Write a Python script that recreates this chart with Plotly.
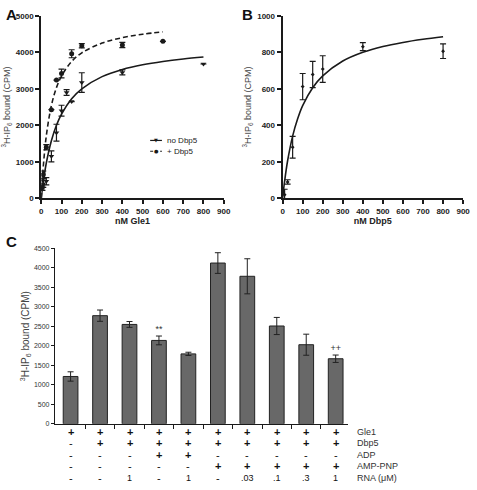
import plotly.graph_objects as go

W, H = 477, 490

# ---------------- Panel A data ----------------
a_nodbp5_x = [5, 10, 25, 50, 75, 100, 125, 150, 200, 400, 800]
a_nodbp5_y = [280, 400, 470, 1150, 1800, 2400, 2900, 2650, 3170, 3450, 3680]
a_nodbp5_err = [60, 100, 100, 150, 230, 150, 80, 0, 270, 70, 0]

a_dbp5_x = [5, 10, 25, 50, 75, 100, 150, 200, 400, 600]
a_dbp5_y = [300, 650, 1400, 2430, 3240, 3420, 3960, 4180, 4200, 4300]
a_dbp5_err = [80, 100, 70, 0, 0, 120, 110, 60, 70, 0]

# fitted curves
a_fit_nodbp5_x = [0, 5, 10, 25, 50, 75, 100, 150, 200, 300, 400, 500, 600, 700, 800]
a_fit_nodbp5_y = [0, 236, 448, 968, 1579, 2000, 2308, 2728, 3000, 3333, 3530, 3659, 3750, 3818, 3870]
a_fit_dbp5_x = [0, 5, 10, 25, 50, 75, 100, 150, 200, 300, 400, 500, 600]
a_fit_dbp5_y = [0, 475, 867, 1714, 2541, 3032, 3350, 3749, 3985, 4253, 4401, 4495, 4560]

# ---------------- Panel B data ----------------
b_x = [10, 25, 50, 100, 150, 200, 400, 800]
b_y = [20, 90, 280, 612, 678, 708, 831, 806]
b_err = [30, 12, 60, 72, 72, 73, 22, 40]
b_fit_x = [0, 5, 10, 25, 50, 75, 100, 150, 200, 300, 400, 500, 600, 700, 800]
b_fit_y = [0, 49, 94, 206, 341, 436, 508, 606, 671, 752, 800, 832, 854, 871, 885]

# ---------------- Panel C data ----------------
c_pos = [1, 2, 3, 4, 5, 6, 7, 8, 9, 10]
c_vals = [1215, 2775, 2550, 2140, 1795, 4125, 3785, 2510, 2030, 1670]
c_err = [120, 145, 75, 113, 42, 265, 450, 220, 270, 95]
c_marks = ["", "", "", "**", "", "**", "", "", "", "++"]
row_labels = ["Gle1", "Dbp5", "ADP", "AMP-PNP", "RNA (\u03bcM)"]
row_gle1 = ["+", "+", "+", "+", "+", "+", "+", "+", "+", "+"]
row_dbp5 = ["-", "+", "+", "+", "+", "+", "+", "+", "+", "+"]
row_adp = ["-", "-", "-", "+", "+", "-", "-", "-", "-", "-"]
row_amppnp = ["-", "-", "-", "-", "-", "+", "+", "+", "+", "+"]
row_rna = ["-", "-", "1", "-", "1", "-", ".03", ".1", ".3", "1"]

fig = go.Figure()

def px_x(p):
    return p / W

def px_y(p):
    return 1 - p / H

FONT = "Liberation Sans"
NARROW = "Liberation Sans Narrow, Liberation Sans"
BLK = "#1a1a1a"

# ---- Panel A traces ----
fig.add_trace(go.Scatter(x=a_fit_nodbp5_x, y=a_fit_nodbp5_y, mode="lines", line=dict(color=BLK, width=1.6, shape="spline"),
                         xaxis="x", yaxis="y", showlegend=False))
fig.add_trace(go.Scatter(x=a_fit_dbp5_x, y=a_fit_dbp5_y, mode="lines", line=dict(color=BLK, width=1.6, dash="5px,3px", shape="spline"),
                         xaxis="x", yaxis="y", showlegend=False))
fig.add_trace(go.Scatter(x=a_nodbp5_x, y=a_nodbp5_y, mode="markers",
                         marker=dict(symbol="triangle-down", size=5, color=BLK),
                         error_y=dict(type="data", array=a_nodbp5_err, color=BLK, thickness=1.2, width=3),
                         xaxis="x", yaxis="y", showlegend=False))
fig.add_trace(go.Scatter(x=a_dbp5_x, y=a_dbp5_y, mode="markers",
                         marker=dict(symbol="circle", size=5, color=BLK),
                         error_y=dict(type="data", array=a_dbp5_err, color=BLK, thickness=1.2, width=3),
                         xaxis="x", yaxis="y", showlegend=False))

# ---- Panel B traces ----
fig.add_trace(go.Scatter(x=b_fit_x, y=b_fit_y, mode="lines", line=dict(color=BLK, width=1.6, shape="spline"),
                         xaxis="x2", yaxis="y2", showlegend=False))
fig.add_trace(go.Scatter(x=b_x, y=b_y, mode="markers",
                         marker=dict(symbol="diamond", size=3, color=BLK),
                         error_y=dict(type="data", array=b_err, color=BLK, thickness=1.2, width=3),
                         xaxis="x2", yaxis="y2", showlegend=False))

# ---- Panel C traces ----
fig.add_trace(go.Bar(x=c_pos, y=c_vals, width=0.5,
                     marker=dict(color="#686868", line=dict(color="#222222", width=1)),
                     error_y=dict(type="data", array=c_err, color="#222222", thickness=1, width=3),
                     xaxis="x3", yaxis="y3", showlegend=False))
mk_x = [p for p, m in zip(c_pos, c_marks) if m]
mk_y = [v + e + 170 for v, e, m in zip(c_vals, c_err, c_marks) if m]
mk_t = [m for m in c_marks if m]
fig.add_trace(go.Scatter(x=mk_x, y=mk_y, mode="text", text=mk_t, cliponaxis=False,
                         textfont=dict(size=9, color="#333333", family=FONT),
                         xaxis="x3", yaxis="y3", showlegend=False))

tick_font = dict(family=NARROW, size=8, color="#222222", weight="bold")
ytitle = "<sup>3</sup>H-IP<sub>6</sub> bound (CPM)"

fig.update_layout(
    width=W, height=H, margin=dict(l=0, r=0, t=0, b=0),
    paper_bgcolor="white", plot_bgcolor="white", showlegend=False,
    font=dict(family=FONT, color="#222222"),
    xaxis=dict(domain=[px_x(40), px_x(226)], range=[0, 900], dtick=100, showline=True, linewidth=2, linecolor=BLK,
               ticks="outside", ticklen=4, tickwidth=1.5, tickcolor=BLK, showgrid=False, zeroline=False,
               tickfont=tick_font, anchor="y",
               title=dict(text="<b>nM Gle1</b>", font=dict(family=FONT, size=9), standoff=0)),
    yaxis=dict(domain=[px_y(198), px_y(12)], range=[0, 5000], dtick=1000, showline=True, linewidth=2, linecolor=BLK,
               ticks="outside", ticklen=4, tickwidth=1.5, tickcolor=BLK, showgrid=False, zeroline=False,
               tickfont=tick_font, anchor="x",
               title=dict(text=ytitle, font=dict(family=FONT, size=9, color="#444"), standoff=4)),
    xaxis2=dict(domain=[px_x(286), px_x(470)], range=[0, 900], dtick=100, showline=True, linewidth=2, linecolor=BLK,
                ticks="outside", ticklen=4, tickwidth=1.5, tickcolor=BLK, showgrid=False, zeroline=False,
                tickfont=tick_font, anchor="y2",
                title=dict(text="<b>nM Dbp5</b>", font=dict(family=FONT, size=9), standoff=0)),
    yaxis2=dict(domain=[px_y(198), px_y(12)], range=[0, 1000], dtick=200, showline=True, linewidth=2, linecolor=BLK,
                ticks="outside", ticklen=4, tickwidth=1.5, tickcolor=BLK, showgrid=False, zeroline=False,
                tickfont=tick_font, anchor="x2",
                title=dict(text=ytitle, font=dict(family=FONT, size=9, color="#444"), standoff=4)),
    xaxis3=dict(domain=[px_x(54), px_x(353)], range=[0.47, 10.43], showline=True, linewidth=1.2, linecolor=BLK,
                ticks="outside", ticklen=4, tickcolor=BLK, tickvals=[1.5, 2.5, 3.5, 4.5, 5.5, 6.5, 7.5, 8.5, 9.5],
                showticklabels=False, showgrid=False, zeroline=False, anchor="y3"),
    yaxis3=dict(domain=[px_y(427.7), px_y(249)], range=[0, 4500], dtick=500, showline=True, linewidth=1.2, linecolor=BLK,
                ticks="outside", ticklen=3, tickcolor=BLK, showgrid=False, zeroline=False,
                tickfont=dict(family=FONT, size=7, color="#333"), anchor="x3",
                title=dict(text=ytitle, font=dict(family=FONT, size=10, color="#444"), standoff=2)),
)

# Legend for panel A drawn in paper space
leg = [("no Dbp5", "solid", "\u25bc", 139), ("+ Dbp5", "3px,2px", "\u25cf", 150)]
for name, dash, sym, ly in leg:
    fig.add_shape(type="line", xref="paper", yref="paper", x0=px_x(151), x1=px_x(163), y0=px_y(ly), y1=px_y(ly),
                  line=dict(color=BLK, width=1.2, dash=dash))
    fig.add_annotation(text=sym, x=px_x(157), y=px_y(ly), xref="paper", yref="paper", showarrow=False,
                       xanchor="center", yanchor="middle", font=dict(family="DejaVu Sans", size=5, color=BLK))
    fig.add_annotation(text=name, x=px_x(166), y=px_y(ly), xref="paper", yref="paper", showarrow=False,
                       xanchor="left", yanchor="middle", font=dict(family=FONT, size=8, color="#222"))

# Panel letters
for letter, (lx, ly) in {"A": (2, 0), "B": (243, 0), "C": (2, 231)}.items():
    fig.add_annotation(text=f"<b>{letter}</b>", x=px_x(lx), y=px_y(ly), xref="paper", yref="paper",
                       xanchor="left", yanchor="top", showarrow=False,
                       font=dict(family=FONT, size=15, color="#111"))

# Condition table below panel C
rows = [row_gle1, row_dbp5, row_adp, row_amppnp, row_rna]
row_y = [436, 447.5, 459, 471, 483]
for vals, ry, lab in zip(rows, row_y, row_labels):
    for xp, v in zip(c_pos, vals):
        txt = "<b>+</b>" if v == "+" else v
        fig.add_annotation(text=txt, x=xp, y=px_y(ry), xref="x3", yref="paper", showarrow=False,
                           xanchor="center", yanchor="middle",
                           font=dict(family=FONT, size=11 if v in ("+", "-") else 9, color="#111"))
    fig.add_annotation(text=lab, x=px_x(360), y=px_y(ry), xref="paper", yref="paper", showarrow=False,
                       xanchor="left", yanchor="middle", font=dict(family=FONT, size=9, color="#333"))

fig.write_html("out.html", config={"displayModeBar": False},
               post_script="document.body.style.margin='0';document.body.style.overflow='hidden';")
